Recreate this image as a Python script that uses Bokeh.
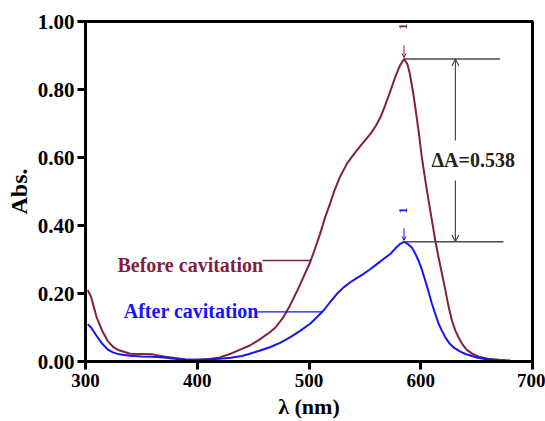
import math
from bokeh.plotting import figure
from bokeh.models import Range1d, FixedTicker, NumeralTickFormatter, Arrow, OpenHead
from bokeh.core.properties import value
from bokeh.embed import file_html
from bokeh.resources import INLINE

# ---------------- data ----------------
wl_before = [302, 305, 310, 315, 320, 325, 330, 340, 350, 360, 370, 380, 390, 400, 410, 420, 430, 440,
             447, 455, 465, 470, 477, 483, 489, 495, 501, 505, 510, 514, 519, 523, 528, 534, 540, 545,
             549, 552, 556, 560, 564, 568, 573, 577, 581, 585, 588, 590, 593, 595, 598, 601, 604, 607,
             610, 613, 616, 619, 622, 625, 628, 631, 634, 637, 641, 646, 652, 660, 670, 680]
abs_before = [0.21, 0.19, 0.13, 0.09, 0.06, 0.042, 0.033, 0.023, 0.022, 0.021, 0.015, 0.010, 0.006, 0.005,
              0.007, 0.012, 0.023, 0.037, 0.047, 0.063, 0.086, 0.10, 0.13, 0.165, 0.205, 0.248, 0.292,
              0.328, 0.376, 0.42, 0.466, 0.505, 0.545, 0.582, 0.609, 0.63, 0.646, 0.658, 0.674, 0.694,
              0.719, 0.752, 0.797, 0.835, 0.868, 0.89, 0.875, 0.85, 0.795, 0.75, 0.68, 0.60, 0.535,
              0.474, 0.415, 0.356, 0.305, 0.258, 0.21, 0.16, 0.12, 0.091, 0.07, 0.052, 0.035, 0.023,
              0.014, 0.008, 0.005, 0.003]

wl_after = [302, 305, 310, 315, 320, 325, 330, 340, 350, 360, 370, 380, 390, 400, 410, 420, 430, 440,
            447, 455, 465, 474, 483, 492, 501, 507, 513, 519, 525, 531, 537, 543, 549, 555, 561, 567,
            573, 578, 582, 585, 588, 592, 595, 598, 601, 604, 607, 610, 613, 616, 619, 622, 626, 630,
            635, 640, 650, 660, 670]
abs_after = [0.11, 0.10, 0.075, 0.052, 0.035, 0.026, 0.021, 0.017, 0.015, 0.014, 0.012, 0.008, 0.005,
             0.005, 0.006, 0.008, 0.011, 0.016, 0.023, 0.031, 0.042, 0.055, 0.071, 0.09, 0.111, 0.13,
             0.15, 0.175, 0.199, 0.218, 0.233, 0.246, 0.258, 0.272, 0.287, 0.302, 0.317, 0.335, 0.347,
             0.352, 0.347, 0.335, 0.318, 0.297, 0.27, 0.238, 0.205, 0.17, 0.14, 0.111, 0.09, 0.071,
             0.052, 0.04, 0.03, 0.022, 0.012, 0.006, 0.003]

series_names = ["Before cavitation", "After cavitation"]
peak_wl = 585
peak_before = 0.89
peak_after = 0.352
delta_text = "\u0394A=0.538"
peak_mark = "1"
x_ticks = [300, 400, 500, 600, 700]
y_ticks = [0.0, 0.2, 0.4, 0.6, 0.8, 1.0]

# ---------------- style ----------------
FONT = "Liberation Serif"
C_BEFORE = "#841E40"
C_AFTER = "#1414F5"
C_ANN = "#4a4a4a"

p = figure(width=545, height=421, output_backend="svg", toolbar_location=None,
           x_range=Range1d(300, 700), y_range=Range1d(0, 1.0),
           min_border_left=85, min_border_right=13, min_border_top=21, min_border_bottom=60)
p.background_fill_color = "white"
p.border_fill_color = "white"
p.grid.visible = False
p.outline_line_color = "black"
p.outline_line_width = 3
p.outline_line_alpha = 1

for ax in (p.xaxis[0], p.yaxis[0]):
    ax.axis_line_width = 3
    ax.major_tick_line_width = 3
    ax.major_tick_out = 8
    ax.major_tick_in = 0
    ax.minor_tick_line_color = None
    ax.major_label_text_font = FONT
    ax.major_label_text_font_style = "bold"
    ax.major_label_text_color = "black"
    ax.axis_label_text_font = FONT
    ax.axis_label_text_font_style = "bold"
    ax.axis_label_text_color = "black"

p.xaxis.major_label_text_font_size = "19px"
p.yaxis.major_label_text_font_size = "21px"
p.xaxis.axis_label_text_font_size = "22px"
p.yaxis.axis_label_text_font_size = "24px"

p.xaxis.ticker = FixedTicker(ticks=x_ticks)
p.yaxis.ticker = FixedTicker(ticks=y_ticks)
p.yaxis.formatter = NumeralTickFormatter(format="0.00")
p.xaxis.axis_label = "\u03bb (nm)"
p.yaxis.axis_label = "Abs."
p.xaxis.major_label_standoff = 4
p.yaxis.major_label_standoff = 3
p.xaxis.axis_label_standoff = 4
p.yaxis.axis_label_standoff = 3

# curves
p.line(wl_before, abs_before, line_color=C_BEFORE, line_width=2)
p.line(wl_after, abs_after, line_color=C_AFTER, line_width=2)

# series labels with connectors
p.segment(x0=[458.5], y0=[0.297], x1=[501], y1=[0.297], line_color=C_BEFORE, line_width=1.3)
p.segment(x0=[454], y0=[0.146], x1=[512], y1=[0.146], line_color=C_AFTER, line_width=1.3)
p.text(x=[459], y=[0.283], text=[series_names[0]], text_align="right", text_baseline="alphabetic",
       text_font=value(FONT), text_font_style="bold", text_font_size="20px", text_color=C_BEFORE)
p.text(x=[455], y=[0.150], text=[series_names[1]], text_align="right", text_baseline="alphabetic",
       text_font=value(FONT), text_font_style="bold", text_font_size="20px", text_color=C_AFTER)

# delta A annotation
p.segment(x0=[peak_wl, peak_wl], y0=[peak_before, peak_after], x1=[671, 674],
          y1=[peak_before, peak_after], line_color=C_ANN, line_width=1.5)
p.add_layout(Arrow(end=OpenHead(size=7, line_color=C_ANN, line_width=1.2), x_start=631, y_start=0.65,
                   x_end=631, y_end=peak_before, line_color=C_ANN, line_width=1.2))
p.add_layout(Arrow(end=OpenHead(size=7, line_color=C_ANN, line_width=1.2), x_start=631, y_start=0.532,
                   x_end=631, y_end=peak_after, line_color=C_ANN, line_width=1.2))
p.text(x=[647], y=[0.592], text=[delta_text], text_align="center", text_baseline="middle",
       text_font=value(FONT), text_font_style="bold", text_font_size="20px", text_color="#222222")

# peak markers
p.add_layout(Arrow(end=OpenHead(size=4, line_color=C_BEFORE, line_width=1), x_start=peak_wl, y_start=0.93,
                   x_end=peak_wl, y_end=peak_before + 0.004, line_color=C_BEFORE, line_width=1))
p.add_layout(Arrow(end=OpenHead(size=4, line_color=C_AFTER, line_width=1), x_start=peak_wl, y_start=0.392,
                   x_end=peak_wl, y_end=peak_after + 0.004, line_color=C_AFTER, line_width=1))
p.text(x=[peak_wl - 1, peak_wl - 1], y=[0.985, 0.444], text=[peak_mark, peak_mark], angle=math.pi / 2,
       text_align="center", text_baseline="middle", text_font=value(FONT), text_font_style="bold",
       text_font_size="13px", text_color=[C_BEFORE, C_AFTER])

open("out.html", "w").write(file_html(p, INLINE))
